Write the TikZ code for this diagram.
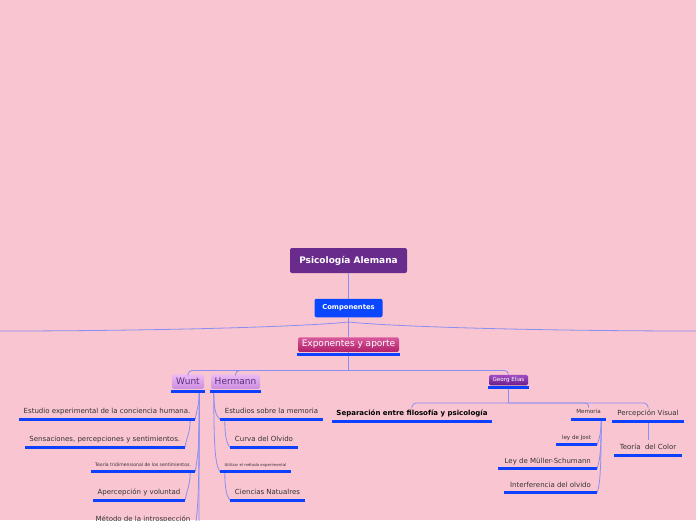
\documentclass[tikz,border=0pt]{standalone}
\usepackage{fontspec}
\setmainfont{DejaVu Sans}
\usetikzlibrary{positioning}
\definecolor{bgpink}{HTML}{F9C5D0}
\definecolor{rootpurple}{HTML}{6A2C8C}
\definecolor{compblue}{HTML}{0A47FF}
\definecolor{ulblue}{HTML}{0D40FF}
\definecolor{connblue}{HTML}{8A8EF2}
\definecolor{txtgray}{HTML}{333333}
\newcommand{\fs}[1]{\fontsize{#1}{#1}\selectfont}
\tikzset{
  rootbox/.style={rectangle,rounded corners=2pt,fill=rootpurple,text=white,font=\bfseries\fs{9},minimum width=117pt,minimum height=25pt,inner sep=0pt},
  compbox/.style={rectangle,rounded corners=2pt,fill=compblue,text=white,font=\bfseries\fs{6.8},minimum width=68pt,minimum height=18.5pt,inner sep=0pt},
  expobox/.style={rectangle,rounded corners=1.5pt,top color=HTMLd85a9c,bottom color=HTMLb0206a,text=white,font=\fs{9},minimum width=101pt,minimum height=14.5pt,inner sep=0pt},
  namebox/.style={rectangle,rounded corners=1.5pt,top color=HTMLecbaf3,bottom color=HTMLcc8ee0,text=HTML5a2a80,font=\fs{9},minimum height=14.5pt,inner sep=0pt},
  georgbox/.style={rectangle,rounded corners=1.5pt,top color=HTMLa24cc4,bottom color=HTML6a1e8a,text=white,font=\fs{5.6},minimum width=39pt,minimum height=10.5pt,inner sep=0pt},
  topic/.style={rectangle,anchor=south,inner xsep=0pt,inner ysep=4pt,text height=5pt,text depth=1.5pt,text=txtgray,font=\fs{7}},
  tinytopic/.style={topic,text height=3.5pt,text depth=1pt,inner ysep=4pt},
  smalltopic/.style={topic,text height=4pt,text depth=1.2pt,inner ysep=4pt},
  uline/.style={draw=ulblue,line width=3pt},
  conn/.style={draw=connblue,line width=0.8pt}
}
\definecolor{HTMLd85a9c}{HTML}{D85A9C}
\definecolor{HTMLb0206a}{HTML}{B0206A}
\definecolor{HTMLecbaf3}{HTML}{ECBAF3}
\definecolor{HTMLcc8ee0}{HTML}{CC8EE0}
\definecolor{HTML5a2a80}{HTML}{5A2A80}
\definecolor{HTMLa24cc4}{HTML}{A24CC4}
\definecolor{HTML6a1e8a}{HTML}{6A1E8A}
\begin{document}
\begin{tikzpicture}[x=1pt,y=-1pt]
\clip (0,0) rectangle (696,520);
\fill[bgpink] (0,0) rectangle (696,520);

% main trunk
\node[rootbox] (psi) at (348.5,260.5) {Psicología Alemana};
\node[compbox] (comp) at (348.5,308) {Componentes};
\node[expobox] (expo) at (348.5,344.5) {Exponentes y aporte};
\coordinate (fork) at (348.5,322);
\coordinate (edgeL) at (0,331);
\coordinate (edgeR) at (696,331);
\coordinate (hub) at (348.5,370.5);

% exponents
\node[namebox,minimum width=32pt] (wunt) at (188,381.5) {Wunt};
\node[namebox,minimum width=49pt] (herm) at (235.5,381.5) {Hermann};
\node[georgbox] (georg) at (508.5,380) {Georg Elias};

% Wunt
\node[topic,minimum width=176pt] (estu) at (107,419.3) {Estudio experimental de la conciencia humana.};
\node[topic,minimum width=160pt] (sens) at (104.8,447.3) {Sensaciones, percepciones y sentimientos.};
\node[tinytopic,font=\fs{4.6},minimum width=104pt] (teor) at (143,471.7) {Teoría tridimensional de los sentimientos.};
\node[topic,minimum width=92pt] (aper) at (139,500) {Apercepción y voluntad};
\node[topic,minimum width=104pt] (meto) at (143,527) {Método de la introspección};

% Hermann
\node[topic,minimum width=103pt] (estm) at (271.5,419.3) {Estudios sobre la memoria};
\node[topic,minimum width=68pt] (curv) at (264,447.3) {Curva del Olvido};
\node[tinytopic,font=\fs{3.9},minimum width=71pt] (util) at (255.5,471.7) {Utilizar el método experimental};
\node[topic,minimum width=75pt] (cien) at (267.5,500) {Ciencias Natualres};

% Georg Elias
\node[topic,font=\bfseries\fs{7},text=black,minimum width=160pt] (sepa) at (412,421) {Separación entre filosofía y psicología};
\node[smalltopic,font=\fs{5.6},minimum width=35pt] (memo) at (588.5,419.3) {Memoria};
\node[topic,minimum width=72pt] (perc) at (648,421) {Percepción Visual};
\node[topic,minimum width=68pt] (colo) at (648,455.3) {Teoría\ \ del Color};
\node[smalltopic,font=\fs{5.6},minimum width=41pt] (jost) at (576.5,444.7) {ley de Jost};
\node[topic,minimum width=98.3pt] (mull) at (547.8,468.7) {Ley de Müller-Schumann};
\node[topic,minimum width=93pt] (inte) at (550.5,492.7) {Interferencia del olvido};

% connectors
\draw[conn] (psi) -- (comp);
\draw[conn] (comp.south) -- (fork) -- (expo.north);
\draw[conn] (fork) .. controls (300,327) and (150,331) .. (edgeL);
\draw[conn] (fork) .. controls (397,327) and (546,331) .. (edgeR);
\draw[conn] (expo.south) -- (hub);
\draw[conn,rounded corners=4pt] (hub) -| (wunt.north);
\draw[conn,rounded corners=4pt] (hub) -| (herm.north);
\draw[conn,rounded corners=4pt] (hub) -| (georg.north);

\coordinate (wt) at ([xshift=-5pt,yshift=-2.5pt]wunt.south east);
\coordinate (wend) at (199,540);
\draw[conn] (wt) -- (wend);
\draw[conn] (wt) .. controls +(0,14) and +(2,-12) .. (estu.south east);
\draw[conn] ([xshift=-5pt]estu.south east) .. controls +(0,14) and +(2,-12) .. (sens.south east);
\draw[conn] (wt) .. controls +(0,60) and +(3,-20) .. (teor.south east);
\draw[conn] ([xshift=-5pt]teor.south east) .. controls +(0,14) and +(2,-12) .. (aper.south east);
\draw[conn] (wt) .. controls +(0,100) and +(3,-20) .. (meto.south east);

\coordinate (ht) at ([xshift=3pt,yshift=-2.5pt]herm.south west);
\draw[conn] (ht) .. controls +(0,18) and +(-4,-4) .. (estm.south west);
\draw[conn] ([xshift=5pt]estm.south west) .. controls +(0,18) and +(-3,-4) .. (curv.south west);
\draw[conn] (ht) .. controls +(0,64) and +(-4,-8) .. (util.south west);
\draw[conn] ([xshift=5pt]util.south west) .. controls +(0,18) and +(-3,-4) .. (cien.south west);

\coordinate (gbus) at (508.5,403);
\draw[conn] (georg.south) -- (gbus);
\draw[conn,rounded corners=4pt] (gbus) -| (sepa.north);
\draw[conn,rounded corners=3pt] (gbus) -| ([yshift=-2pt]memo.north);
\draw[conn,rounded corners=4pt] (gbus) -| (perc.north);
\draw[conn] (perc.south) -- (colo.north);

\coordinate (mt) at ([xshift=-5pt]memo.south east);
\draw[conn] (mt) .. controls +(0,14) and +(2,-6) .. (jost.south east);
\draw[conn] (mt) .. controls +(0,38) and +(2,-8) .. (mull.south east);
\draw[conn] (mt) .. controls +(0,62) and +(2,-8) .. (inte.south east);

% underlines
\draw[uline] ([xshift=-1pt,yshift=-3pt]expo.south west) -- ([xshift=1pt,yshift=-3pt]expo.south east);
\draw[uline] ([xshift=-1pt,yshift=-3pt]wunt.south west) -- ([xshift=1pt,yshift=-3pt]wunt.south east);
\draw[uline] ([xshift=-1pt,yshift=-3pt]herm.south west) -- ([xshift=1pt,yshift=-3pt]herm.south east);
\draw[uline] ([xshift=-1pt,yshift=-2.5pt]georg.south west) -- ([xshift=1pt,yshift=-2.5pt]georg.south east);
\draw[uline] (estu.south west) -- (estu.south east);
\draw[uline] (sens.south west) -- (sens.south east);
\draw[uline] (teor.south west) -- (teor.south east);
\draw[uline] (aper.south west) -- (aper.south east);
\draw[uline] (meto.south west) -- (meto.south east);
\draw[uline] (estm.south west) -- (estm.south east);
\draw[uline] (curv.south west) -- (curv.south east);
\draw[uline] (util.south west) -- (util.south east);
\draw[uline] (cien.south west) -- (cien.south east);
\draw[uline] (sepa.south west) -- (sepa.south east);
\draw[uline] (memo.south west) -- (memo.south east);
\draw[uline] (perc.south west) -- (perc.south east);
\draw[uline] (colo.south west) -- (colo.south east);
\draw[uline] (jost.south west) -- (jost.south east);
\draw[uline] (mull.south west) -- (mull.south east);
\draw[uline] (inte.south west) -- (inte.south east);
\end{tikzpicture}
\end{document}
